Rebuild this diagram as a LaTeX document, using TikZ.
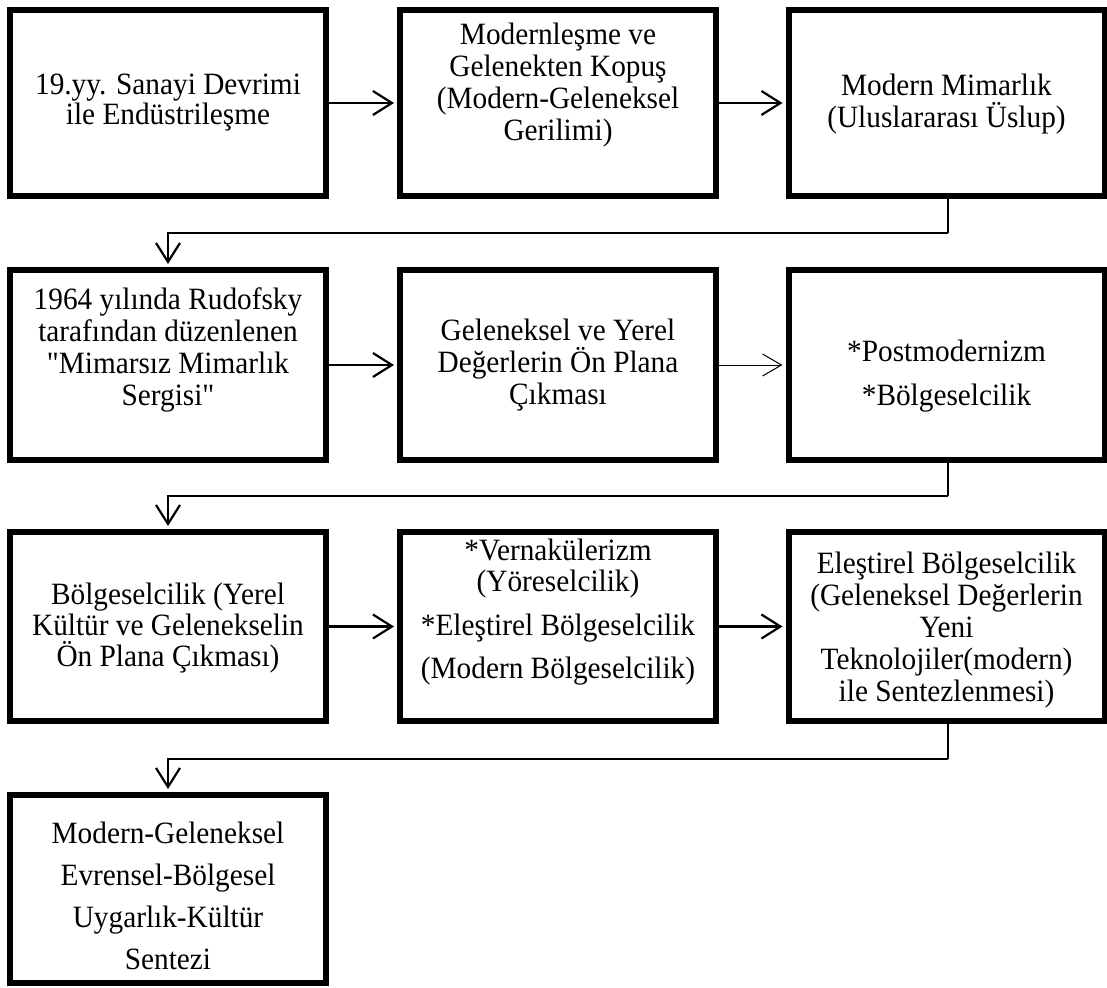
\documentclass[tikz,border=0pt]{standalone}
\usepackage{fontspec}
\setmainfont{Liberation Serif}[FakeStretch=0.945,Ligatures=TeXOff]
\usetikzlibrary{arrows.meta}
\begin{document}
\begin{tikzpicture}[x=1pt,y=-1pt,
  box/.style={draw,line width=6pt,minimum width=316pt,minimum height=188pt,inner sep=0pt},
  txt/.style={inner sep=0pt,align=center,font=\fontsize{31}{32}\selectfont},
  conn/.style={line width=2.2pt,-{Straight Barb[length=19pt,width=24pt]},shorten >=3pt},
  thinconn/.style={line width=1pt,-{Straight Barb[length=19pt,width=22pt]},shorten >=3pt},
  link/.style={line width=2.2pt}]
\useasboundingbox (0,0) rectangle (1107,987);
% boxes
\node[box,minimum height=186pt] (A1) at (168,103) {};
\node[box,minimum height=186pt] (B1) at (558,103) {};
\node[box,minimum height=186pt] (C1) at (946.5,103) {};
\node[box,minimum height=190pt] (A2) at (168,365) {};
\node[box,minimum height=190pt] (B2) at (558,365) {};
\node[box,minimum height=190pt] (C2) at (946.5,365) {};
\node[box,minimum height=189pt] (A3) at (168,626.5) {};
\node[box,minimum height=189pt] (B3) at (558,626.5) {};
\node[box,minimum height=189pt] (C3) at (946.5,626.5) {};
\node[box,minimum height=188pt] (A4) at (168,889) {};
% texts
\node[txt,font=\fontsize{31}{30}\selectfont] (A1t) at (168,103) {19.yy. Sanayi Devrimi\\ile Endüstrileşme};
\node[txt] (B1t) at (558,85) {Modernleşme ve\\Gelenekten Kopuş\\(Modern-Geleneksel\\Gerilimi)};
\node[txt] (C1t) at (946.5,104) {Modern Mimarlık\\(Uluslararası Üslup)};
\node[txt] (A2t) at (168,350) {1964 yılında Rudofsky\\tarafından düzenlenen\\"Mimarsız Mimarlık\\Sergisi"};
\node[txt] (B2t) at (558,365) {Geleneksel ve Yerel\\Değerlerin Ön Plana\\Çıkması};
\node[txt,font=\fontsize{31}{44}\selectfont] (C2t) at (946.5,376) {*Postmodernizm\\*Bölgeselcilik};
\node[txt,font=\fontsize{31}{31}\selectfont] (A3t) at (168,628) {Bölgeselcilik (Yerel\\Kültür ve Gelenekselin\\Ön Plana Çıkması)};
\node[txt,font=\fontsize{31}{31}\selectfont] (B3t) at (558,612) {*Vernakülerizm\\(Yöreselcilik)\\[13pt]*Eleştirel Bölgeselcilik\\[12pt](Modern Bölgeselcilik)};
\node[txt] (C3t) at (946.5,630) {Eleştirel Bölgeselcilik\\(Geleneksel Değerlerin\\Yeni\\Teknolojiler(modern)\\ile Sentezlenmesi)};
\node[txt,font=\fontsize{31}{42}\selectfont] (A4t) at (168,896) {Modern-Geleneksel\\Evrensel-Bölgesel\\Uygarlık-Kültür\\Sentezi};
% bend points
\coordinate (j1) at (948,233);
\coordinate (j2) at (948,496);
\coordinate (j3) at (948,759);
% horizontal arrows
\draw[conn] (A1.east) -- (B1.west);
\draw[conn] (B1.east) -- (C1.west);
\draw[conn] (A2.east) -- (B2.west);
\draw[thinconn] (B2.east) -- (C2.west);
\draw[conn] (A3.east) -- (B3.west);
\draw[conn] (B3.east) -- (C3.west);
% row-to-row connectors
\draw[link] (C1.south -| j1) -- (j1);
\draw[conn] (j1) -| (A2.north);
\draw[link] (C2.south -| j2) -- (j2);
\draw[conn] (j2) -| (A3.north);
\draw[link] (C3.south -| j3) -- (j3);
\draw[conn] (j3) -| (A4.north);
\end{tikzpicture}
\end{document}
